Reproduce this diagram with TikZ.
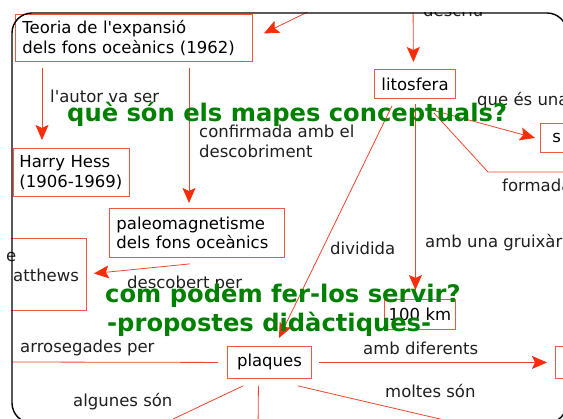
\documentclass[tikz,border=0pt]{standalone}
\usepackage{fontspec}
\usetikzlibrary{arrows.meta,positioning}
\newfontfamily\mapfont{DejaVu Sans}
\newcommand{\mapsize}{\mapfont\fontsize{16.5}{19.5}\selectfont}
\newcommand{\qsize}{\mapfont\bfseries\fontsize{24.2}{29}\selectfont}
\definecolor{boxred}{RGB}{236,88,66}
\definecolor{linered}{RGB}{240,68,44}
\definecolor{tipred}{RGB}{250,45,10}
\definecolor{qgreen}{RGB}{0,128,0}
\tikzstyle{box} = [rectangle, draw=boxred, line width=0.9pt, inner xsep=7pt, inner ysep=0pt, anchor=north west, font=\mapsize, align=left]
\tikzstyle{lbl} = [inner sep=0pt, anchor=base west, font=\mapsize, text=black!88]

\begin{document}
\begin{tikzpicture}[x=1pt,y=-1pt]
\tikzstyle{arr} = [draw=linered, line width=0.8pt, -{Stealth[length=15pt,width=13pt,inset=3pt,color=tipred]}]
\tikzstyle{ln} = [draw=linered, line width=0.8pt]
\tikzstyle{q} = [inner sep=0pt, anchor=base west, font=\qsize, text=qgreen]
\useasboundingbox (0,0) rectangle (563,419);
\begin{scope}
\clip (11,13) rectangle (563,419);
\node[box, text width=223pt, minimum height=47pt] (teoria) at (15,14) {Teoria de l'expansió\\dels fons oceànics (1962)};
\node[box, text width=104pt, minimum height=48pt, inner xsep=6pt] (hess) at (13,148) {Harry Hess\\(1906-1969)};
\node[box, text width=161pt, minimum height=49pt] (paleo) at (109,208) {paleomagnetisme\\dels fons oceànics};
\node[box, text width=92pt, minimum height=72pt] (matthews) at (-20,238) {};
\node[box, text width=67pt, minimum height=29pt, align=center] (litosfera) at (374,69) {litosfera};
\node[box, text width=65pt, minimum height=30pt, inner xsep=3pt, align=center] (km) at (384,299) {100 km};
\node[box, text width=70pt, minimum height=32pt, align=center] (plaques) at (227,346) {plaques};
\node[box, text width=40pt, minimum height=29pt, inner xsep=12pt] (solida) at (540,123) {s};
\node[box, text width=46pt, minimum height=32pt] (diferents) at (555,346) {};

\coordinate (descsrc) at (413,0);
\coordinate (teoriasrc) at (332,0);
\coordinate (formadaend) at (570,172);
\coordinate (arroend) at (12,362);
\coordinate (algend) at (150,430);
\coordinate (baixend) at (258,430);
\coordinate (moltesend) at (470,426);

\draw[arr, shorten <=6pt, shorten >=8pt] ([xshift=27pt]teoria.south west) -- ([xshift=29pt]hess.north west);
\draw[arr, shorten <=6pt, shorten >=5pt] ([xshift=174pt]teoria.south west) -- ([xshift=80pt]paleo.north west);
\draw[arr] ([xshift=81pt,yshift=-6pt]paleo.south west) -- ([xshift=7pt,yshift=1pt]matthews.east);
\draw[arr, shorten >=7pt] (descsrc) -- ([xshift=-1.5pt]litosfera.north);
\draw[arr] (teoriasrc) -- ([xshift=11pt,yshift=4.5pt]teoria.east);
\draw[arr] ([xshift=18pt,yshift=-7pt]litosfera.south west) -- ([xshift=52pt,yshift=8pt]plaques.north west);
\draw[arr, shorten <=5pt, shorten >=9pt] ([xshift=0.5pt]litosfera.south) -- ([xshift=-4.5pt]km.north);
\draw[arr] ([xshift=-28pt,yshift=-10pt]litosfera.south east) -- ([xshift=-5pt]solida.west);
\draw[ln] ([xshift=-22pt,yshift=-14pt]litosfera.south east) -- (488,172) -- (formadaend);
\draw[ln, shorten <=9pt] (plaques.west) -- (arroend);
\draw[arr, shorten <=7pt, shorten >=8pt] (plaques.east) -- (diferents.west);
\draw[ln] ([xshift=16pt,yshift=-7pt]plaques.south west) -- (algend);
\draw[ln] ([xshift=-11pt,yshift=-7pt]plaques.south) -- (baixend);
\draw[ln] ([xshift=-14pt,yshift=-7pt]plaques.south east) -- (moltesend);

\node[lbl] (autor) at (50,103) {l'autor va ser};
\node[lbl, anchor=west, align=left] (confirmada) at (199,141.5) {confirmada amb el\\descobriment};
\node[lbl] (matt) at (13,282) {atthews};
\node[lbl] (descobert) at (127,289) {descobert per};
\node[lbl] (descriu) at (423,17) {descriu};
\node[lbl] (queesuna) at (477,106) {que és una};
\node[lbl] (formada) at (502,192) {formada};
\node[lbl] (dividida) at (330,255) {dividida};
\node[lbl] (gruixaria) at (425,248) {amb una gruixària};
\node[lbl] (arrosegades) at (20,353) {arrosegades per};
\node[lbl] (ambdif) at (363,355) {amb diferents};
\node[lbl] (algunes) at (73,407) {algunes són};
\node[lbl] (moltes) at (385,398) {moltes són};

\node[q] (quesón) at (67,122) {què són els mapes conceptuals?};
\node[q] (servir) at (105,303) {com podem fer-los servir?};
\node[q] (propostes) at (107,332) {-propostes didàctiques-};
\end{scope}
\node[lbl] (vine) at (6,262) {e};
\draw[black, line width=1.4pt, rounded corners=20pt] (12,13) rectangle (567,423);
\end{tikzpicture}
\end{document}
